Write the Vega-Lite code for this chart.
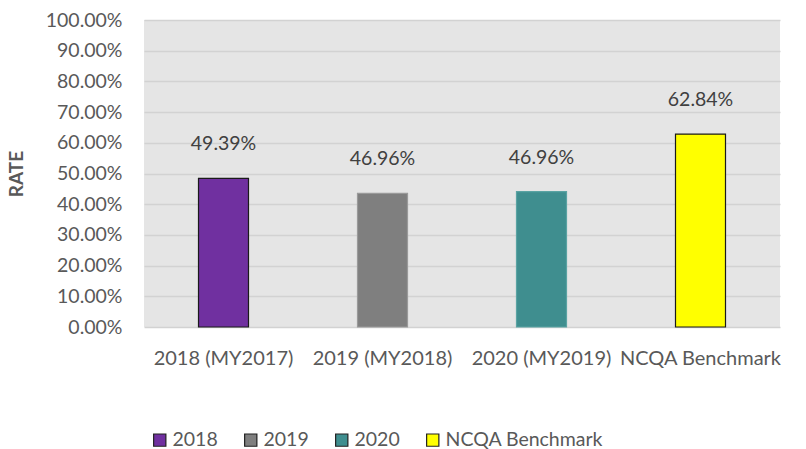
{
  "$schema": "https://vega.github.io/schema/vega-lite/v6.json",
  "width": 636,
  "height": 307,
  "autosize": {"type": "none"},
  "padding": {"left": 144, "top": 20, "right": 26, "bottom": 122},
  "background": "white",
  "config": {
    "font": "Lato",
    "view": {"fill": "#e5e5e5", "stroke": null},
    "axis": {"labelColor": "#595959", "titleColor": "#595959", "labelFont": "Lato", "titleFont": "Lato"}
  },
  "data": {
    "values": [
      {"category": "2018 (MY2017)", "series": "2018", "rate": 0.484, "label": "49.39%"},
      {"category": "2019 (MY2018)", "series": "2019", "rate": 0.435, "label": "46.96%"},
      {"category": "2020 (MY2019)", "series": "2020", "rate": 0.441, "label": "46.96%"},
      {"category": "NCQA Benchmark", "series": "NCQA Benchmark", "rate": 0.6284, "label": "62.84%"}
    ]
  },
  "encoding": {
    "x": {
      "field": "category", "type": "nominal", "sort": null,
      "scale": {"paddingInner": 0, "paddingOuter": 0},
      "axis": {"title": null, "labelAngle": 0, "labelFontSize": 20, "labelPadding": 21, "ticks": false, "domain": false, "grid": false, "labelLimit": 0, "labelOverlap": false}
    },
    "y": {
      "field": "rate", "type": "quantitative",
      "scale": {"domain": [0, 1]},
      "axis": {"title": "RATE", "titleFontSize": 19, "titleFontWeight": "bold", "titlePadding": 19, "format": ".2%", "values": [0,0.1,0.2,0.3,0.4,0.5,0.6,0.7,0.8,0.9,1], "labelOverlap": false, "labelFontSize": 19.5, "labelPadding": 22, "ticks": false, "domain": false, "gridColor": "#d2d2d2", "gridWidth": 1.5}
    }
  },
  "layer": [
    {
      "mark": {"type": "bar", "size": 50, "strokeWidth": 1.2},
      "encoding": {
        "color": {
          "field": "series", "type": "nominal", "sort": null,
          "scale": {"domain": ["2018", "2019", "2020", "NCQA Benchmark"], "range": ["#7030a0", "#7f7f7f", "#3f8e8f", "#ffff00"]},
          "legend": {"title": null, "orient": "none", "direction": "horizontal", "legendX": 6, "legendY": 410, "symbolType": "square", "symbolSize": 150, "symbolStrokeColor": "#222222", "symbolStrokeWidth": 1.2, "labelFontSize": 19.5, "labelColor": "#595959", "columnPadding": 23, "labelOffset": 3}
        },
        "stroke": {
          "condition": [
            {"test": "datum.series === '2019'", "value": "#9a9a9a"},
            {"test": "datum.series === '2020'", "value": "#5aa3a3"}
          ],
          "value": "#1a1a1a"
        }
      }
    },
    {
      "mark": {"type": "text", "fontSize": 19.5, "color": "#404040", "dy": -34, "baseline": "middle"},
      "encoding": {
        "text": {"field": "label"}
      }
    }
  ]
}
